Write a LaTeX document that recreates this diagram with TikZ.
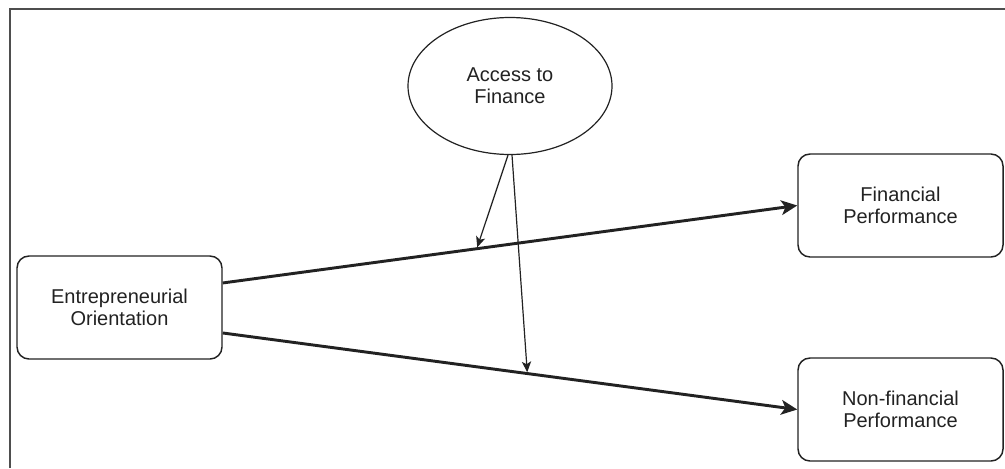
\documentclass[tikz,border=0pt]{standalone}
\usepackage{fontspec}
\setmainfont{Liberation Sans}
\usetikzlibrary{arrows.meta,shapes.geometric,calc}
\definecolor{ink}{HTML}{222222}
\tikzset{
  box/.style={draw=ink, line width=1.1pt, rounded corners=9pt, minimum width=153.75pt, minimum height=77.25pt, inner sep=0pt, align=center, text=ink, font=\fontsize{15}{16.5}\selectfont},
  oval/.style={ellipse, draw=ink, line width=0.9pt, minimum width=153pt, minimum height=102.75pt, inner sep=0pt, align=center, text=ink, font=\fontsize{15}{16.5}\selectfont},
  thick arrow/.style={draw=ink, line width=2.2pt, -{Stealth[length=12pt,width=11pt,inset=3pt]}},
  thin arrow/.style={draw=ink, line width=0.9pt, -{Stealth[length=8pt,width=7pt,inset=2pt]}},
  frame/.style={draw=ink!80, line width=1.2pt}
}
\begin{document}
\begin{tikzpicture}[x=0.75pt,y=-0.75pt]
\useasboundingbox (0,0) rectangle (1005,468);
\draw[frame] (10,468) -- (10,9) -- (1005,9);
\node[box] (eo) at (119.5,307.5) {Entrepreneurial\\Orientation};
\node[box] (fp) at (900.5,205.5) {Financial\\Performance};
\node[box] (nfp) at (900.5,409.5) {Non-financial\\Performance};
\node[oval] (af) at (510,86) {Access to\\Finance};
\coordinate (s1) at ([yshift=18.4pt]eo.east);
\coordinate (s2) at ([yshift=-19.1pt]eo.east);
\draw[thick arrow] (s1) -- (fp.west);
\draw[thick arrow] (s2) -- (nfp.west);
\coordinate (m1) at ($(s1)!0.443!(fp.west)$);
\coordinate (m2) at ($(s2)!0.53!(nfp.west)$);
\draw[thin arrow] ([xshift=-1.5pt]af.south) -- ([yshift=1pt]m1);
\draw[thin arrow] ([xshift=1.5pt]af.south) -- ([yshift=1pt]m2);
\end{tikzpicture}
\end{document}
